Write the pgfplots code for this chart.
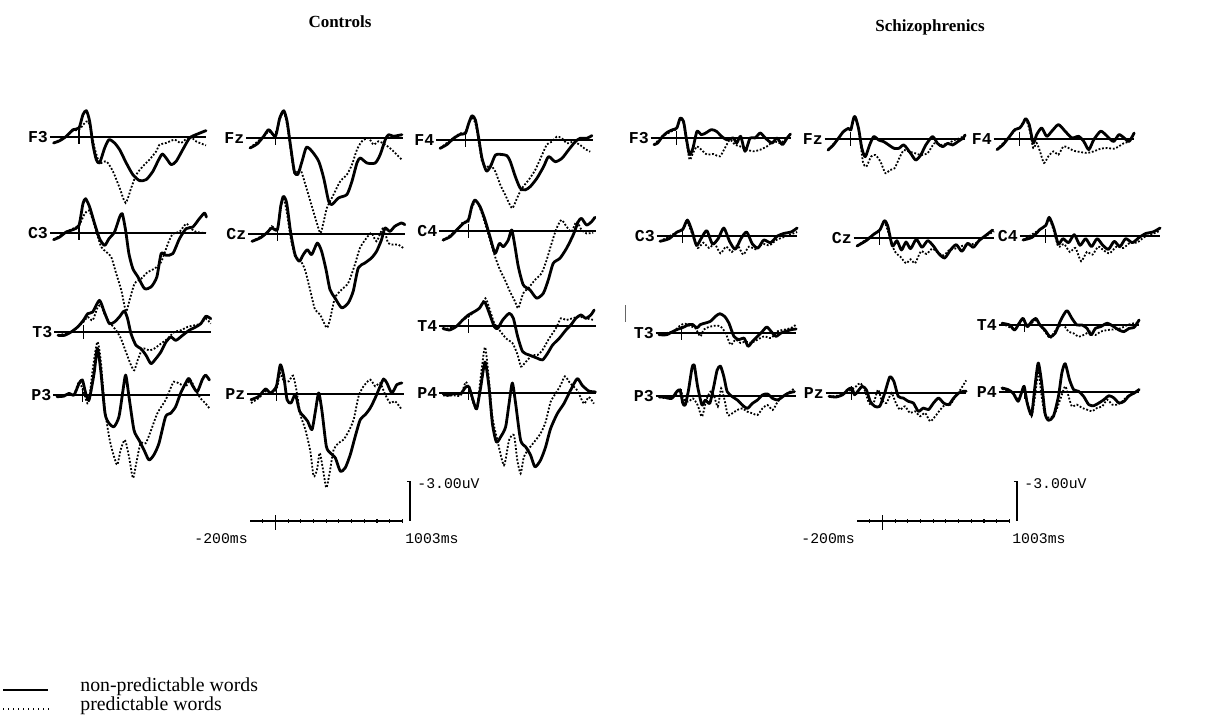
\documentclass[border=0pt]{standalone}
\usepackage{fontspec}
\setmainfont{Liberation Serif}
\newfontfamily\cour{Liberation Mono}
\usepackage{pgfplots}
\pgfplotsset{compat=1.18}

\newcommand\labfont{\cour\bfseries\fontsize{8.3}{9}\selectfont}
\newcommand\scfont{\cour\fontsize{7.4}{8}\selectfont}

\pgfplotsset{erp/.style={hide axis, clip=false, xmin=-200, xmax=1003, ymin=-8, ymax=8, y dir=reverse, y=6.65pt, anchor=west}}
\tikzset{
 sl/.style={black, line width=1.4pt, smooth, tension=0.4, line join=round, line cap=round},
 dl/.style={black, line width=0.9pt, dash pattern=on 0.9pt off 0.9pt, smooth, tension=0.4},
 bl/.style={black, line width=0.55pt},
 lab/.style={anchor=east, font=\labfont, inner sep=0.6pt},
}

% X start (px), baseline Y (px), label, x unit, solid, dotted
\newcommand\erp[6]{%
 \begin{axis}[erp, x=#4, at={({#1*0.5pt},{-#2*0.5pt})}]
 \draw[bl] (axis cs:-230,0) -- (axis cs:1003,0);
 \draw[bl] (axis cs:0,-0.5) -- (axis cs:0,0.55);
 \node[lab] at (axis cs:-232,0) {#3};
 \addplot[sl] coordinates {#5};
 \addplot[dl] coordinates {#6};
 \end{axis}}

% scale bar: X start, Y baseline, x unit
\newcommand\scalebar[3]{%
 \begin{axis}[erp, x=#3, at={({#1*0.5pt},{-#2*0.5pt})}]
 \draw[bl] (axis cs:-200,0) -- (axis cs:1003,0);
 \draw[bl] (axis cs:0,-0.45) -- (axis cs:0,0.7);
 \draw[bl] (axis cs:-100,-0.15) -- (axis cs:-100,0.15);
 \draw[bl] (axis cs:100,-0.15) -- (axis cs:100,0.15);
 \draw[bl] (axis cs:200,-0.15) -- (axis cs:200,0.15);
 \draw[bl] (axis cs:300,-0.15) -- (axis cs:300,0.15);
 \draw[bl] (axis cs:400,-0.15) -- (axis cs:400,0.15);
 \draw[bl] (axis cs:500,-0.15) -- (axis cs:500,0.15);
 \draw[bl] (axis cs:600,-0.15) -- (axis cs:600,0.15);
 \draw[bl] (axis cs:700,-0.15) -- (axis cs:700,0.15);
 \draw[bl] (axis cs:800,-0.15) -- (axis cs:800,0.15);
 \draw[bl] (axis cs:900,-0.15) -- (axis cs:900,0.15);
 \draw[bl] (axis cs:1003,-0.15) -- (axis cs:1003,0.15);
 \draw[bl] (axis cs:1036,-3) -- (axis cs:1060,-3) -- (axis cs:1060,0);
 \node[anchor=west, font=\scfont, inner sep=0] at (axis cs:1115,-2.8) {-3.00uV};
 \node[anchor=east, font=\scfont, inner sep=0] at (axis cs:-215,1.35) {-200ms};
 \node[anchor=west, font=\scfont, inner sep=0] at (axis cs:1020,1.35) {1003ms};
 \end{axis}}

\begin{document}
\begin{tikzpicture}
\path[use as bounding box] (0,0) rectangle (603pt,-358.5pt);

\node[font=\bfseries\fontsize{8.5}{10}\selectfont] at (170pt,-11pt) {Controls};
\node[font=\bfseries\fontsize{8.5}{10}\selectfont] at (465pt,-13.5pt) {Schizophrenics};

%%%%%%%%%%%%%%%% CONTROLS %%%%%%%%%%%%%%%%
\erp{53.6}{137}{F3}{0.0635pt}
{(-200,0.45) (-152,0.28) (-100,-0.05) (-47,-0.55) (0,-0.68) (31,-1.68) (58,-1.98) (84,-1.18) (110,0.58) (136,1.7) (162,1.95) (202,0.83) (236,0.2) (280,0.45) (320,0.95) (372,1.95) (424,2.83) (477,3.28) (530,3.2) (582,2.58) (621,1.83) (655,1.28) (686,1.58) (726,2.08) (765,1.83) (817,0.95) (870,0.08) (922,-0.18) (1000,-0.48)}
{(-200,0.45) (-100,-0.05) (-47,-0.48) (0,-0.55) (45,-1.05) (71,-1.18) (97,-0.43) (123,0.83) (162,1.95) (215,1.83) (267,2.58) (320,3.83) (367,4.95) (411,3.83) (451,2.83) (503,2.2) (555,1.7) (608,1.08) (634,0.58) (686,0.45) (752,0.2) (804,0.45) (870,-0.05) (922,0.33) (1000,0.63)}

\erp{250}{138}{Fz}{0.0635pt}
{(-200,0.75) (-144,0.45) (-92,-0.13) (-52,-0.63) (0,-0.13) (34,-1.5) (66,-2.05) (92,-1.25) (118,0.5) (149,2.5) (176,2.75) (210,1.75) (244,0.7) (288,1.0) (341,1.75) (380,3.0) (419,4.75) (445,5.0) (498,4.5) (563,4.25) (603,3.25) (642,1.88) (668,1.5) (721,1.88) (786,1.88) (825,1.25) (865,0.13) (891,-0.25) (930,-0.13) (996,-0.25)}
{(-200,0.75) (-92,-0.13) (-52,-0.5) (0,-0.2) (34,-1.38) (66,-1.95) (92,-1.0) (118,0.75) (149,2.63) (197,2.38) (236,3.5) (275,4.75) (314,6.0) (354,7.15) (380,6.3) (406,5.25) (458,4.25) (511,3.25) (563,2.75) (603,2.0) (642,0.88) (681,0.25) (733,0) (773,0.5) (812,0.25) (865,0.5) (917,0.88) (956,1.25) (996,1.63)}

\erp{440}{140}{F4}{0.0635pt}
{(-200,0.63) (-144,0.33) (-92,-0.13) (-39,-0.43) (0,-0.5) (26,-1.25) (52,-1.83) (79,-1.5) (105,-0.13) (131,1.38) (165,2.33) (197,2.0) (236,1.13) (275,1.08) (327,1.18) (354,1.63) (393,2.75) (432,3.63) (472,3.75) (511,3.5) (563,2.88) (616,2.0) (655,1.25) (707,1.63) (760,1.38) (812,0.75) (865,0.13) (904,-0.13) (956,-0.13) (996,-0.33)}
{(-200,0.63) (-92,-0.18) (-39,-0.5) (0,-0.58) (26,-1.25) (52,-1.68) (79,-1.25) (105,0.13) (131,1.63) (165,2.08) (197,1.88) (236,2.38) (275,3.38) (314,4.13) (367,5.13) (406,4.38) (445,3.63) (498,3.0) (550,2.25) (603,1.13) (642,0.33) (681,0.13) (720,-0.25) (760,-0.13) (799,0.25) (851,0.13) (904,0.38) (943,0.68) (983,0.88)}

\erp{53.6}{233}{C3}{0.0635pt}
{(-200,0.5) (-152,0.3) (-100,-0.08) (-47,-0.25) (0,-0.58) (31,-2.2) (52,-2.58) (84,-1.95) (123,-0.7) (162,0.43) (202,0.93) (236,0.43) (280,-0.08) (320,-1.2) (341,-1.45) (367,-0.2) (393,1.55) (424,2.68) (464,3.3) (516,4.18) (568,4.05) (613,3.3) (647,1.55) (686,1.68) (739,1.55) (791,0.43) (844,-0.33) (896,-0.45) (948,-1.08) (988,-1.5) (1003,-1.2)}
{(-200,0.5) (-100,-0.08) (-47,-0.33) (0,-0.58) (45,-1.45) (79,-1.7) (110,-0.95) (141,0.05) (175,1.05) (215,1.43) (254,1.8) (293,3.05) (333,4.3) (370,5.9) (398,5.05) (438,3.8) (490,3.43) (542,2.93) (595,2.68) (647,2.18) (700,0.8) (739,0.05) (791,-0.08) (844,-0.7) (883,-0.33) (922,-0.08) (1000,0)}

\erp{252}{234}{Cz}{0.0635pt}
{(-200,0.55) (-136,0.3) (-84,-0.08) (-45,-0.45) (0,-0.33) (26,-2.08) (47,-2.83) (73,-2.33) (105,-0.08) (139,1.55) (173,2.05) (204,1.55) (236,1.18) (270,1.55) (314,0.68) (348,1.3) (383,2.68) (414,4.18) (453,4.8) (506,5.55) (558,5.18) (597,4.3) (637,2.55) (689,2.18) (741,1.8) (781,1.3) (820,0.43) (846,-0.45) (886,-0.2) (925,-0.58) (977,-0.83) (1003,-0.7)}
{(-200,0.55) (-84,-0.08) (-45,-0.58) (0,-0.33) (26,-1.95) (47,-2.7) (73,-1.7) (105,0.3) (139,1.68) (178,1.93) (217,2.68) (257,4.18) (296,5.68) (336,6.05) (388,7.05) (414,6.43) (453,4.8) (506,4.18) (558,3.68) (610,2.3) (650,1.05) (702,0.3) (741,-0.08) (781,0.55) (833,-0.45) (872,0.68) (912,0.8) (951,0.8) (990,1.05)}

\erp{443}{231}{C4}{0.0635pt}
{(-200,0.68) (-144,0.43) (-92,-0.08) (-39,-0.58) (0,-0.83) (26,-1.83) (52,-2.33) (92,-1.83) (131,-0.83) (170,0.43) (210,1.68) (244,0.93) (275,1.18) (314,0.68) (341,-0.08) (367,1.18) (393,2.68) (432,4.05) (485,4.43) (537,5.05) (590,4.68) (629,3.68) (668,2.43) (721,2.05) (773,1.3) (825,0.3) (865,-0.7) (891,-0.95) (930,-0.45) (970,-0.7) (996,-1.03)}
{(-200,0.73) (-92,-0.08) (-39,-0.7) (0,-0.7) (26,-1.7) (60,-2.28) (92,-1.7) (131,-0.58) (170,0.68) (210,1.93) (249,2.93) (288,3.68) (327,4.55) (367,5.3) (393,5.8) (432,4.68) (472,4.3) (524,3.68) (576,3.18) (616,2.18) (655,0.93) (694,-0.2) (733,-0.83) (773,-0.33) (812,0.05) (851,-0.7) (891,-0.08) (930,0.18) (983,0.13)}

\erp{58}{332}{T3}{0.0635pt}
{(-200,0.25) (-149,0.25) (-97,0) (-45,-0.38) (0,-0.88) (34,-1.38) (73,-1.5) (126,-2.38) (165,-1.5) (204,-0.63) (244,-0.75) (283,-1.13) (322,-1.58) (348,-1.0) (375,0.13) (414,1.0) (453,1.25) (493,1.75) (532,2.38) (571,2.0) (610,1.5) (650,0.75) (689,0.38) (728,0.63) (781,0.25) (833,-0.13) (885,-0.38) (925,-0.63) (964,-1.18) (1003,-1.0)}
{(-200,0.25) (-97,0) (-45,-0.38) (0,-0.75) (34,-1.13) (73,-0.88) (113,-1.88) (139,-2.0) (165,-1.38) (204,-0.75) (257,-0.13) (296,0.5) (335,1.5) (375,2.5) (401,2.88) (427,2.13) (466,1.25) (519,1.38) (558,1.25) (610,0.88) (663,0.5) (715,0) (768,-0.13) (820,-0.38) (872,-0.5) (925,-0.63) (964,-1.0) (1003,-0.63)}

\erp{57}{395}{P3}{0.0635pt}
{(-200,0.13) (-144,0.08) (-105,-0.13) (-66,0) (-26,-0.88) (0,-1.13) (26,-0.13) (52,0.38) (92,-1.63) (118,-3.5) (144,-1.88) (178,1.38) (210,2.13) (249,2.38) (288,1.63) (320,-0.38) (341,-1.5) (367,0.13) (406,2.63) (445,3.38) (485,4.13) (524,4.88) (563,4.5) (603,3.63) (655,1.63) (694,1.38) (734,0.88) (773,-0.13) (812,-0.88) (838,-1.25) (865,-0.75) (904,-0.25) (943,-1.13) (969,-1.5) (1000,-1.13)}
{(-200,0.13) (-105,-0.08) (-66,0) (-26,-1.0) (13,-0.13) (47,0.63) (84,-2.13) (118,-4.0) (144,-2.63) (178,1.13) (215,3.38) (249,4.63) (275,5.25) (301,4.13) (335,3.38) (367,4.63) (398,6.25) (424,5.13) (458,3.63) (498,3.63) (537,2.75) (590,1.38) (655,0.38) (694,-0.5) (720,-1.0) (760,-0.88) (812,-0.63) (851,-1.13) (891,-0.38) (930,0.25) (969,0.63) (1000,1.0)}

\erp{251}{394}{Pz}{0.0635pt}
{(-200,0.43) (-139,0.18) (-86,-0.38) (-47,-0.08) (0,-0.58) (31,-2.2) (58,-1.33) (84,0.43) (115,0.68) (149,0.05) (183,1.3) (215,1.68) (246,2.05) (280,2.68) (307,1.3) (333,-0.08) (359,1.3) (393,3.93) (424,4.43) (464,4.8) (503,5.8) (542,5.55) (582,4.55) (621,3.18) (660,1.93) (700,1.55) (739,1.05) (778,0.3) (817,-0.58) (844,-1.13) (870,-0.83) (909,-0.08) (948,-0.7) (988,-0.83)}
{(-200,0.68) (-139,0.3) (-86,-0.2) (-47,-0.08) (0,-0.33) (31,-1.58) (58,-0.95) (97,-0.95) (131,-1.38) (157,-0.33) (189,1.55) (228,2.68) (267,4.3) (293,6.18) (320,5.68) (341,4.43) (367,5.68) (393,7.05) (419,5.93) (451,4.18) (490,3.68) (529,3.43) (569,2.8) (608,1.93) (647,0.18) (686,-0.58) (739,-1.08) (778,-0.58) (817,-0.83) (857,0.05) (896,0.68) (935,0.55) (988,1.18)}

\erp{443}{326}{T4}{0.0635pt}
{(-200,0.18) (-149,0.3) (-97,0.05) (-45,-0.45) (0,-0.83) (47,-1.08) (86,-1.33) (126,-1.83) (165,-0.95) (204,0.05) (231,0.18) (270,-0.45) (322,-0.95) (354,-0.58) (388,0.8) (427,1.93) (479,2.18) (545,2.43) (584,2.55) (624,2.05) (663,1.43) (715,0.93) (768,0.3) (807,-0.08) (846,-0.58) (886,-0.83) (925,-0.58) (964,-0.83) (990,-1.2)}
{(-200,0.25) (-97,0.05) (-45,-0.45) (0,-0.7) (47,-1.08) (86,-1.33) (134,-2.08) (165,-1.33) (204,-0.2) (244,0.3) (296,0.93) (348,1.3) (388,2.18) (414,3.05) (453,2.68) (506,2.18) (545,2.18) (584,1.8) (636,0.93) (689,0.18) (728,-0.58) (768,-0.45) (820,-0.58) (872,-0.7) (925,-0.58) (990,-0.45)}

\erp{443}{393}{P4}{0.0635pt}
{(-200,0.05) (-165,0.18) (-113,0.05) (-60,0.05) (-21,-0.45) (5,-0.45) (45,0.8) (66,1.18) (97,-0.45) (131,-2.33) (162,-0.45) (189,2.3) (220,3.68) (254,3.3) (293,2.55) (320,0.8) (346,-0.75) (372,0.8) (411,3.55) (451,4.05) (490,4.68) (524,5.55) (568,5.05) (608,4.05) (647,2.68) (700,1.55) (752,0.8) (804,-0.2) (857,-1.08) (896,-0.58) (948,-0.15) (1000,-0.08)}
{(-200,0.18) (-113,0.18) (-60,0.18) (-21,-0.83) (10,-0.2) (45,0.93) (71,0.93) (97,-1.2) (131,-3.45) (162,-0.95) (189,1.8) (228,3.55) (280,5.43) (320,3.55) (359,3.18) (385,5.05) (411,6.05) (437,4.8) (477,4.18) (529,3.55) (568,3.05) (608,2.18) (647,0.68) (686,0.05) (726,-0.58) (760,-1.25) (804,-0.7) (857,-0.2) (909,0.8) (948,0.3) (988,0.8)}

\scalebar{250}{521}{0.0635pt}

%%%%%%%%%%%%%%%% SCHIZOPHRENICS %%%%%%%%%%%%%%%%
\erp{654}{138}{F3}{0.057pt}
{(-200,0.5) (-168,0.38) (-124,-0.13) (-80,-0.45) (-35,-0.63) (0,-0.75) (30,-1.5) (59,-1.25) (83,0) (112,1.25) (142,0.75) (177,-0.5) (215,-0.25) (254,-0.38) (304,-0.63) (348,-0.5) (392,-0.13) (437,0.13) (496,0) (525,0.38) (560,-0.13) (599,1.0) (643,0) (687,0) (732,-0.38) (776,0) (835,0.38) (879,0) (925,0.5) (968,0) (997,-0.3)}
{(-200,0.5) (-124,-0.13) (-35,-0.55) (0,-0.7) (30,-1.45) (59,-1.13) (83,0.13) (112,1.63) (142,1.13) (177,0.63) (215,0.88) (265,1.25) (319,1.2) (378,1.38) (422,0.75) (466,0.13) (510,0.5) (555,0.63) (614,0.88) (673,1.0) (732,0.88) (791,0.63) (850,0.25) (909,0.38) (968,0) (997,-0.3)}

\erp{828}{139}{Fz}{0.057pt}
{(-200,0.83) (-153,0.45) (-109,-0.05) (-65,-0.55) (-21,-0.8) (0,-0.68) (24,-1.55) (38,-1.68) (68,-0.8) (97,0.7) (127,1.33) (165,0.45) (201,-0.18) (245,0.08) (289,0.2) (333,0.45) (378,0.7) (422,0.7) (466,0.45) (525,1.08) (569,1.58) (614,1.2) (658,0.45) (717,-0.18) (761,0.33) (805,0.58) (850,0.33) (894,0.45) (938,0.2) (982,-0.05) (1003,-0.3)}
{(-200,0.83) (-109,-0.05) (-65,-0.6) (-21,-0.8) (0,-0.73) (24,-1.5) (47,-1.55) (77,-0.3) (106,1.7) (136,2.08) (177,1.33) (215,1.2) (260,1.7) (304,2.58) (342,2.33) (384,2.2) (431,1.33) (466,0.83) (510,0.95) (569,1.08) (614,1.2) (673,1.08) (732,0.33) (791,0.45) (850,0.33) (909,0.08) (968,-0.1) (1003,-0.3)}

\erp{997}{139}{F4}{0.057pt}
{(-200,0.8) (-148,0.43) (-89,-0.2) (-44,-0.7) (0,-0.83) (30,-1.2) (53,-1.53) (83,-1.08) (118,0.3) (148,-0.33) (192,-0.83) (236,-0.2) (280,-0.58) (339,-1.08) (398,-0.58) (457,-0.08) (516,-0.2) (561,0.18) (605,0.8) (649,0.05) (708,-0.58) (752,-0.33) (797,0.05) (826,0.18) (870,-0.33) (915,-0.08) (959,0.18) (1003,-0.45)}
{(-200,0.8) (-89,-0.2) (-44,-0.63) (0,-0.83) (30,-1.28) (53,-1.53) (89,-0.58) (118,0.68) (148,0.3) (177,0.93) (212,1.8) (251,1.3) (295,0.93) (339,1.18) (383,0.55) (428,0.68) (472,0.88) (531,0.98) (590,1.05) (649,0.93) (708,0.73) (767,0.68) (826,0.73) (870,0.55) (915,0.3) (959,0.18) (1003,-0.45)}

\erp{660}{236}{C3}{0.057pt}
{(-200,0.4) (-120,0.2) (-50,-0.3) (0,-0.5) (40,-1.2) (80,-0.4) (120,0.7) (160,0.2) (210,-0.4) (260,0.6) (310,0.2) (360,-0.6) (410,0.4) (460,1.0) (510,0.2) (560,-0.3) (610,0.6) (660,0.9) (710,0.3) (770,0.5) (830,0) (890,-0.2) (950,-0.3) (1003,-0.6)}
{(-200,0.4) (-50,-0.3) (0,-0.5) (40,-1.0) (80,-0.2) (130,0.9) (180,0.5) (230,0.9) (280,0.6) (330,1.3) (380,0.8) (430,1.2) (480,0.7) (530,1.4) (580,0.8) (640,1.0) (700,0.6) (760,0.7) (820,0.3) (880,0.1) (940,-0.1) (1003,-0.3)}

\erp{857}{238}{Cz}{0.057pt}
{(-200,0.6) (-120,0.2) (-50,-0.3) (0,-0.6) (40,-1.3) (70,-0.9) (110,0.6) (150,0.2) (190,0.9) (230,0.3) (270,0.8) (320,0.1) (370,0.7) (420,0.2) (470,0.6) (520,1.2) (570,1.5) (620,0.9) (670,0.5) (720,1.0) (770,0.4) (820,0.7) (870,0.2) (930,-0.2) (990,-0.6)}
{(-200,0.6) (-50,-0.3) (0,-0.6) (40,-1.2) (80,-0.3) (130,1.0) (180,1.4) (230,1.9) (270,1.6) (310,1.9) (360,1.0) (410,1.2) (460,0.8) (510,1.1) (560,1.3) (610,0.9) (660,0.8) (720,0.6) (780,0.5) (840,0.4) (900,0) (960,-0.3) (1003,-0.5)}

\erp{1023}{236}{C4}{0.057pt}
{(-200,0.3) (-120,0.1) (-50,-0.5) (0,-0.8) (30,-1.4) (70,-0.6) (110,0.6) (150,0.2) (200,0.5) (250,-0.1) (300,0.7) (350,0.2) (400,0.8) (450,0.2) (500,0.7) (550,1.0) (600,0.4) (650,0.8) (700,0.2) (760,0.5) (820,0.1) (880,-0.2) (940,-0.3) (1003,-0.6)}
{(-200,0.3) (-50,-0.5) (0,-0.8) (30,-1.3) (70,-0.4) (110,0.8) (160,0.6) (210,1.2) (260,0.9) (310,1.9) (360,1.2) (410,1.4) (460,0.8) (510,1.1) (560,1.3) (620,0.8) (680,0.9) (740,0.5) (800,0.5) (860,0.1) (920,-0.1) (1003,-0.4)}

\erp{659}{333}{T3}{0.057pt}
{(-200,0.13) (-133,0.13) (-74,-0.13) (-30,-0.3) (0,-0.38) (30,-0.5) (59,-0.63) (97,-0.63) (133,-0.38) (162,-0.63) (207,-0.75) (251,-0.88) (295,-1.25) (333,-1.45) (375,-1.25) (413,-0.75) (457,0.25) (502,0.5) (546,0.38) (581,1.0) (620,0.63) (664,0.25) (708,-0.13) (746,-0.45) (782,-0.13) (826,0.25) (870,0) (915,-0.13) (959,-0.25) (1003,-0.3)}
{(-200,0.13) (-74,-0.13) (-30,-0.45) (0,-0.63) (30,-0.7) (74,-0.5) (118,-0.38) (162,0.25) (192,-0.25) (236,-0.45) (295,-0.55) (339,-0.5) (384,0) (428,0.88) (472,0.5) (516,0.75) (561,0.63) (605,0.75) (664,0.5) (723,0.25) (782,0.38) (841,-0.13) (900,-0.25) (959,-0.38) (1003,-0.63)}

\erp{1002}{325}{T4}{0.057pt}
{(-200,-0.13) (-133,0) (-89,0.38) (-50,-0.13) (-15,-0.5) (21,0.13) (59,-0.25) (97,-0.5) (133,0) (177,0.38) (221,0.88) (266,0.63) (316,-0.38) (369,-1.08) (413,-0.5) (457,0) (502,0) (546,0.25) (581,0.75) (620,0.25) (664,0.13) (723,-0.13) (782,0.13) (826,0.38) (870,0.5) (915,0.25) (959,0.18) (1003,-0.38)}
{(-200,-0.13) (-89,0.33) (-50,-0.08) (-15,-0.43) (21,0) (59,-0.13) (97,-0.38) (133,0) (177,0.5) (221,1.0) (251,0.63) (295,0.13) (339,0) (384,0.5) (428,0.63) (472,0.88) (516,0.75) (575,0.5) (620,0.75) (664,0.5) (723,0.38) (782,0.33) (841,0.25) (900,0) (959,-0.13) (1003,-0.13)}

\erp{659}{396}{P3}{0.057pt}
{(-200,0.05) (-148,0.1) (-89,0.18) (-44,-0.33) (-15,-0.45) (9,0.55) (30,0.68) (59,-0.45) (89,-2.08) (109,-2.33) (139,-0.7) (177,0.68) (207,0.3) (245,0.55) (280,-0.7) (310,-1.95) (339,-2.25) (369,-1.45) (398,-0.33) (443,0.05) (487,0.3) (531,0.68) (575,0.93) (620,0.55) (664,0.3) (708,-0.08) (752,-0.15) (797,0.18) (841,0.3) (885,0.05) (929,-0.2) (988,-0.33)}
{(-200,0.1) (-89,0.18) (-44,-0.2) (-15,-0.5) (21,0.3) (59,0.43) (97,0.18) (139,0.68) (177,1.55) (215,0.3) (251,-0.33) (280,-0.08) (316,0.8) (345,-0.58) (375,0.3) (404,1.43) (443,1.3) (487,1.05) (531,0.93) (575,1.18) (620,1.3) (664,1.43) (708,0.93) (752,0.68) (797,1.05) (841,0.43) (885,0.05) (929,-0.2) (988,-0.58)}

\erp{829}{393}{Pz}{0.057pt}
{(-200,0.25) (-139,0.3) (-80,0.13) (-35,-0.25) (0,-0.38) (24,0.13) (53,-0.13) (91,-0.5) (127,-0.25) (162,0.63) (201,1.0) (245,1.0) (289,0) (333,-1.2) (369,-0.88) (407,0.25) (451,0.38) (496,0.63) (540,0.75) (584,1.38) (628,1.13) (673,1.25) (717,0.75) (761,0.38) (805,0.75) (850,0.88) (894,0.38) (938,0) (982,-0.13) (1003,-0.13)}
{(-200,0.3) (-80,0.13) (-35,-0.13) (0,-0.25) (38,-0.5) (74,-0.75) (112,-0.25) (150,0.75) (186,0.88) (230,-0.25) (260,0.5) (304,0.75) (348,0) (386,0.75) (422,1.25) (466,1.0) (510,1.5) (555,1.38) (599,1.75) (643,1.5) (687,2.13) (732,1.75) (776,1.25) (820,0.88) (864,0.88) (909,0.25) (953,-0.25) (1003,-0.95)}

\erp{1002}{392}{P4}{0.057pt}
{(-200,-0.3) (-148,-0.18) (-103,0.08) (-59,0.7) (-30,0.08) (-6,-0.43) (21,0.83) (59,1.7) (89,-0.43) (118,-2.18) (148,-0.68) (177,1.58) (207,2.13) (251,1.83) (295,0.33) (325,-1.43) (354,-2.13) (392,-0.93) (428,-0.18) (472,-0.05) (516,0.33) (561,0.95) (605,1.03) (649,0.83) (693,0.58) (738,0.28) (782,0.45) (826,0.83) (870,0.7) (915,0.28) (959,0.08) (1003,-0.18)}
{(-200,-0.23) (-103,0.08) (-59,0.58) (-30,0.08) (-6,-0.38) (21,0.7) (59,1.83) (89,0.33) (118,-1.43) (148,0.33) (177,1.7) (221,1.95) (266,1.58) (310,0.58) (354,-0.43) (384,0.33) (413,1.08) (457,0.95) (502,1.2) (546,1.33) (590,1.45) (634,1.2) (679,1.08) (723,0.58) (767,0.95) (811,0.95) (856,0.7) (900,0.33) (944,0.2) (1003,-0.23)}

\scalebar{857}{521}{0.0635pt}

% stray mark
\draw[line width=0.4pt, black!60] (312.5pt,-152.5pt) -- (312.5pt,-161pt);

% legend
\draw[line width=0.6pt] (1.5pt,-345pt) -- (24pt,-345pt);
\draw[line width=0.7pt, dash pattern=on 0.7pt off 1.8pt] (1.5pt,-354.5pt) -- (25pt,-354.5pt);
\node[anchor=west, font=\fontsize{9.9}{11}\selectfont, inner sep=0] at (40pt,-343.5pt) {non-predictable words};
\node[anchor=west, font=\fontsize{9.9}{11}\selectfont, inner sep=0] at (40pt,-353pt) {predictable words};
\end{tikzpicture}
\end{document}
